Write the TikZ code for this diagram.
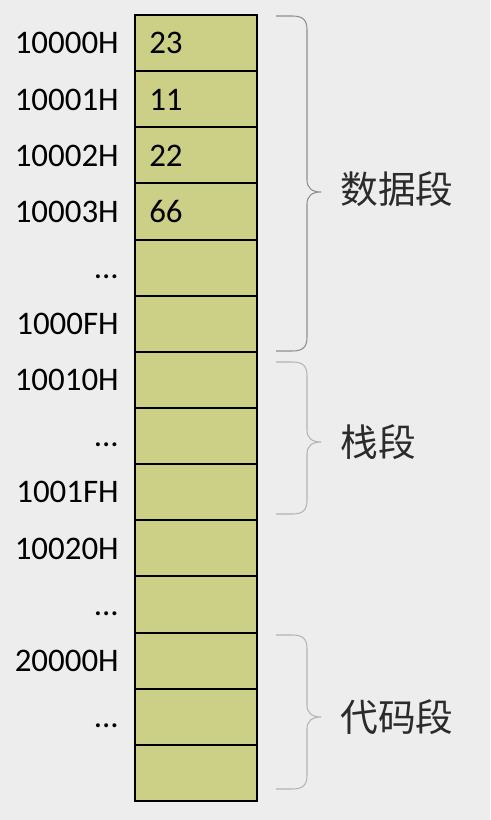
\documentclass[tikz,border=0pt]{standalone}
\usepackage{fontspec}
\setmainfont{Carlito}
\newfontfamily\cjk{Noto Sans CJK SC}
\definecolor{bgc}{HTML}{EDEDED}
\definecolor{cellc}{HTML}{CCCF86}
\definecolor{segc}{HTML}{2B2B2B}
\definecolor{braceA}{HTML}{8E8E8E}
\definecolor{braceB}{HTML}{B4B4B4}
\newcommand{\mydots}{...}
\tikzset{
  cell/.style={draw=black, line width=1.5pt, fill=cellc},
  addr/.style={anchor=base east, inner sep=0pt, font=\fontsize{24.7}{28}\selectfont},
  val/.style={anchor=base west, inner sep=0pt, font=\fontsize{24.7}{28}\selectfont},
  seg/.style={anchor=west, inner sep=0pt, text=segc, font=\cjk\fontsize{28.3}{32}\selectfont},
  bracestyle/.style={line width=0.8pt}
}
\newcommand{\mybrace}[4]{% color, top, tip, bottom
  \draw[bracestyle, draw=#1] (276,#2) -- (292,#2) .. controls (303,#2) and (307,#2+4) .. (307,#2+14)
    -- (307,#3-12) .. controls (307,#3-4) and (312,#3) .. (321,#3)
    .. controls (312,#3) and (307,#3+4) .. (307,#3+12)
    -- (307,#4-14) .. controls (307,#4-4) and (303,#4) .. (292,#4) -- (276,#4);}
\begin{document}
\begin{tikzpicture}[x=0.75pt,y=-0.75pt]
\fill[bgc] (0,0) rectangle (490,820);
\useasboundingbox (0,0) rectangle (490,820);
% cells
\foreach \i in {0,...,13}{
  \pgfmathsetmacro{\ytop}{15+\i*56.14}
  \pgfmathsetmacro{\ybot}{15+(\i+1)*56.14}
  \draw[cell] (135,\ytop) rectangle (257,\ybot);
}
% addresses
\foreach \i/\t in {0/10000H,1/10001H,2/10002H,3/10003H,4/\mydots,5/1000FH,6/10010H,7/\mydots,8/1001FH,9/10020H,10/\mydots,11/20000H,12/\mydots}{
  \pgfmathsetmacro{\yb}{15+(\i+0.5)*56.14+10.8}
  \node[addr] (a\i) at (119,\yb) {\t};
}
% values
\foreach \i/\t in {0/23,1/11,2/22,3/66}{
  \pgfmathsetmacro{\yb}{15+(\i+0.5)*56.14+10.8}
  \node[val] (v\i) at (149,\yb) {\t};
}
% braces
\mybrace{braceA}{16}{192}{351}
\mybrace{braceB}{362}{442}{514}
\mybrace{braceB}{635}{717}{789}
% segment labels
\node[seg] (data) at (340,189) {数据段};
\node[seg] (stack) at (340,442) {栈段};
\node[seg] (code) at (340,717) {代码段};
\end{tikzpicture}
\end{document}
